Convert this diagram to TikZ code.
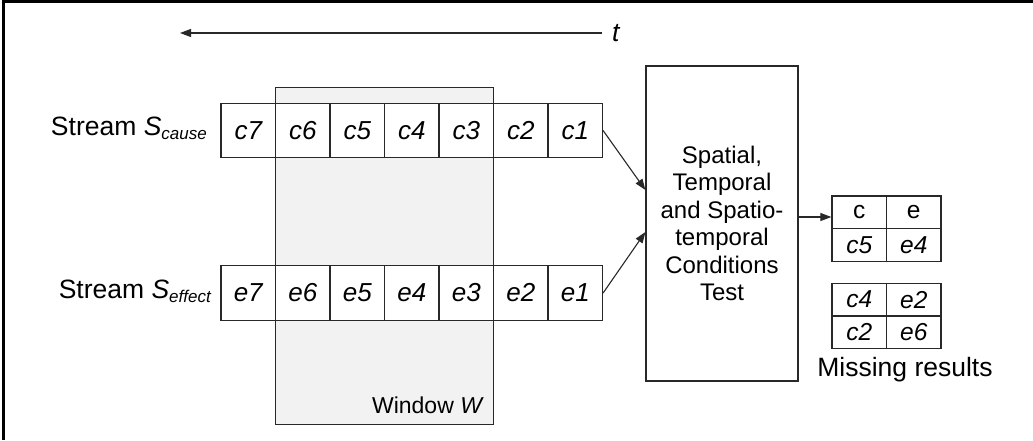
\documentclass[tikz,border=0pt]{standalone}
\usepackage{fontspec}
\setmainfont{Liberation Sans}
\usetikzlibrary{arrows.meta}
\definecolor{winfill}{RGB}{242,242,242}
\definecolor{lncol}{RGB}{40,40,40}
\begin{document}
\begin{tikzpicture}[x=1pt,y=-1pt,
  ln/.style={line width=1.2pt, draw=lncol},
  cellbox/.style={ln, fill=white, minimum width=54.5pt, minimum height=54.5pt, inner sep=0pt, font=\fontsize{26}{30}\selectfont\itshape},
  rescell/.style={ln, fill=white, minimum width=54.5pt, minimum height=32.6pt, inner sep=0pt, font=\fontsize{24.5}{28}\selectfont\itshape},
  arr/.style={line width=1.1pt, draw=lncol, -{Triangle[length=11pt,width=8pt]}},
  lbl/.style={inner sep=0pt, font=\fontsize{26.5}{30}\selectfont}
]
\useasboundingbox (0,0) rectangle (1033,440);
\draw[line width=2.4pt] (3.5,440) -- (3.5,1.5) -- (1033,1.5);

% time arrow
\coordinate (tR) at (602,33);
\coordinate (tL) at (180,33);
\draw[arr] (tR) -- (tL);
\node[lbl, anchor=west] (tlabel) at (612,33) {\itshape t};

% window
\node[ln, fill=winfill, minimum width=218pt, minimum height=337pt, inner sep=0pt, anchor=north west] (win) at (275,87) {};
\node[inner sep=0pt, anchor=base east, font=\fontsize{23}{26}\selectfont] (winlbl) at (484,413) {Window \textit{W}};

% stream cells
\foreach \k [evaluate=\k as \xx using 248.25+54.5*(7-\k)] in {1,...,7} {
  \node[cellbox] (c\k) at (\xx,130.5) {c\k};
  \node[cellbox] (e\k) at (\xx,293) {e\k};
}

% stream labels
\node[lbl, anchor=base east] (scause) at (207,135.5) {Stream \textit{S}\raisebox{-3.5pt}{\fontsize{17}{17}\selectfont\itshape cause}};
\node[lbl, anchor=base east] (seffect) at (211,298.5) {Stream \textit{S}\raisebox{-3.5pt}{\fontsize{17}{17}\selectfont\itshape effect}};

% test box
\node[ln, minimum width=152pt, minimum height=315pt, inner sep=0pt, align=center,
      font=\fontsize{24}{27.5}\selectfont] (test) at (722,223.5)
  {Spatial,\\Temporal\\and Spatio-\\temporal\\Conditions\\Test};

\draw[arr] (c1.east) -- ([yshift=33.5pt]test.west);
\draw[arr] (e1.east) -- ([yshift=-8.5pt]test.west);

% result tables
\node[rescell, font=\fontsize{24.5}{28}\selectfont] (ta) at (859.25,212.3) {c};
\node[rescell, font=\fontsize{24.5}{28}\selectfont] (tb) at (913.75,212.3) {e};
\node[rescell] (tc) at (859.25,244.9) {c5};
\node[rescell] (td) at (913.75,244.9) {e4};

\node[rescell] (ua) at (859.25,299.6) {c4};
\node[rescell] (ub) at (913.75,299.6) {e2};
\node[rescell] (uc) at (859.25,332.2) {c2};
\node[rescell] (ud) at (913.75,332.2) {e6};

\draw[arr] ([yshift=6.5pt]test.east) coordinate (o) -- (o -| ta.west);

\node[inner sep=0pt, font=\fontsize{26.5}{30}\selectfont] (miss) at (905,370) {Missing results};
\end{tikzpicture}
\end{document}
